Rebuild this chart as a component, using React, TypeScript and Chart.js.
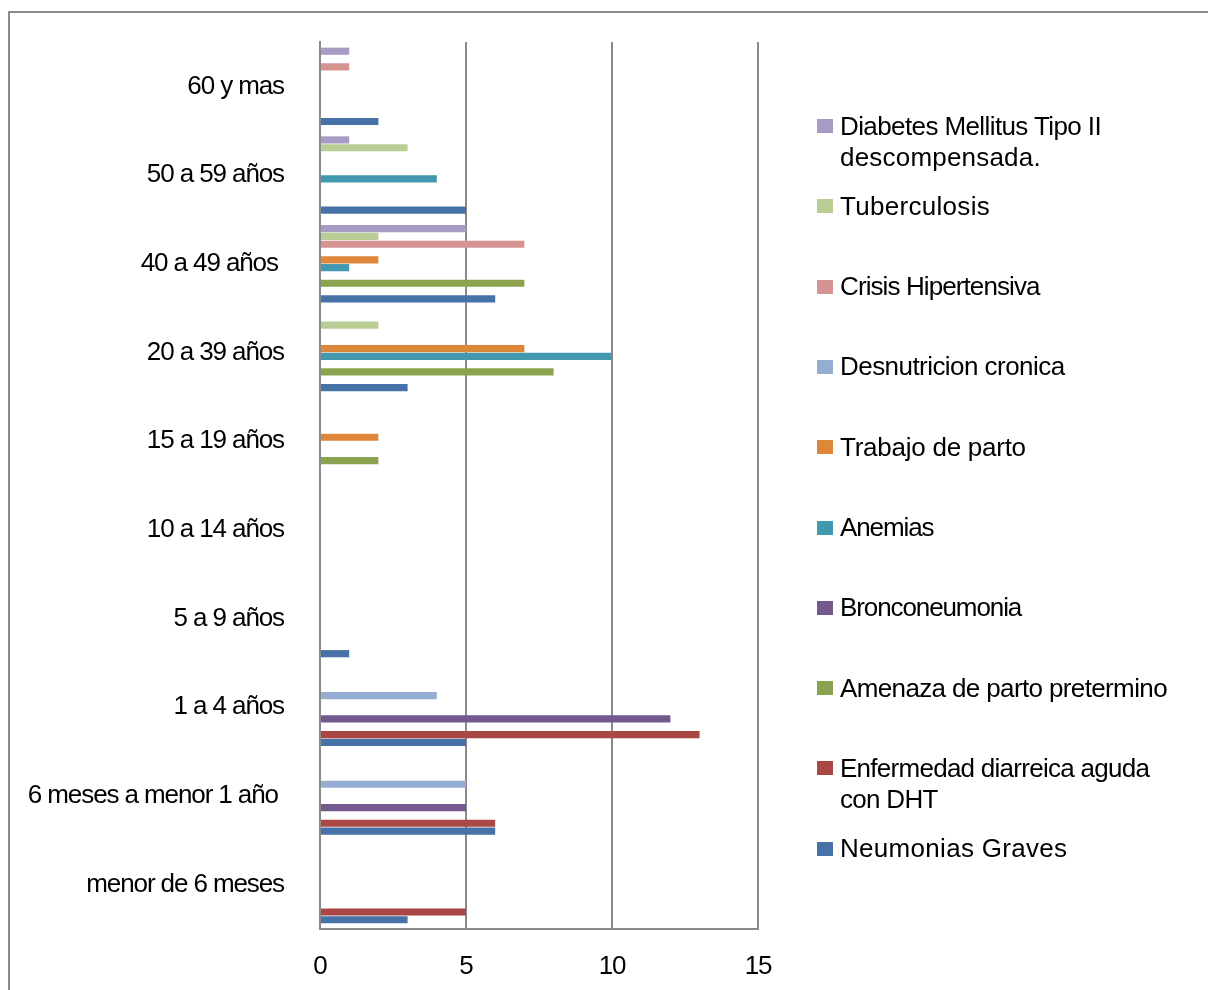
import React, { useEffect, useRef } from "react";
import { Chart, registerables } from "chart.js";

Chart.register(...registerables);

const categories = [
  "60 y mas",
  "50 a 59 años",
  "40 a 49 años ",
  "20 a 39 años",
  "15 a 19 años",
  "10 a 14 años",
  "5 a 9 años",
  "1 a 4 años",
  "6 meses a menor 1 año ",
  "menor de 6 meses",
];

const seriesNames = [
  ["Diabetes Mellitus Tipo II", "descompensada."],
  ["Tuberculosis"],
  ["Crisis Hipertensiva"],
  ["Desnutricion cronica"],
  ["Trabajo de parto"],
  ["Anemias"],
  ["Bronconeumonia"],
  ["Amenaza de parto pretermino"],
  ["Enfermedad diarreica aguda", "con DHT"],
  ["Neumonias Graves"],
];

const seriesColors = [
  "#A79BC3",
  "#BACD95",
  "#D59392",
  "#95ACD3",
  "#DE863A",
  "#4198AF",
  "#74598F",
  "#8BA24F",
  "#AA4644",
  "#4672A8",
];

// per-line letter spacing (px) of the legend texts, to match the reference's tight setting
const legendSpacing = [
  [-0.6, 0.2],
  [0.3],
  [-0.9],
  [-0.55],
  [-0.25],
  [-1.1],
  [-1.1],
  [-0.63],
  [-0.73, -0.7],
  [0.3],
];

const diabetes = [1, 1, 5, 0, 0, 0, 0, 0, 0, 0];
const tuberculosis = [0, 3, 2, 2, 0, 0, 0, 0, 0, 0];
const crisisHipertensiva = [1, 0, 7, 0, 0, 0, 0, 0, 0, 0];
const desnutricion = [0, 0, 0, 0, 0, 0, 0, 4, 5, 0];
const trabajoParto = [0, 0, 2, 7, 2, 0, 0, 0, 0, 0];
const anemias = [0, 4, 1, 10, 0, 0, 0, 0, 0, 0];
const bronconeumonia = [0, 0, 0, 0, 0, 0, 0, 12, 5, 0];
const amenazaParto = [0, 0, 7, 8, 2, 0, 0, 0, 0, 0];
const enfermedadDiarreica = [0, 0, 0, 0, 0, 0, 0, 13, 6, 5];
const neumonias = [2, 5, 6, 3, 0, 0, 1, 5, 6, 3];

const seriesValues = [
  diabetes,
  tuberculosis,
  crisisHipertensiva,
  desnutricion,
  trabajoParto,
  anemias,
  bronconeumonia,
  amenazaParto,
  enfermedadDiarreica,
  neumonias,
];

const xTicks = [0, 5, 10, 15];

const FONT = "'Liberation Sans', Arial, sans-serif";
const GRAY = "#8A8A8A";

const spacingPlugin = {
  id: "tightText",
  beforeDraw(chart: any) {
    try {
      chart.ctx.letterSpacing = "-1.1px";
    } catch (e) {}
  },
  afterDraw(chart: any) {
    try {
      chart.ctx.letterSpacing = "0px";
    } catch (e) {}
  },
};

export default function App() {
  const canvasRef = useRef<HTMLCanvasElement | null>(null);

  useEffect(() => {
    const canvas = canvasRef.current;
    if (!canvas) return;
    const chart = new Chart(canvas, {
      type: "bar",
      data: {
        labels: categories,
        datasets: seriesValues.map((vals, i) => ({
          label: seriesNames[i].join(" "),
          data: vals,
          backgroundColor: seriesColors[i],
          borderWidth: 0,
          categoryPercentage: 0.88,
          barPercentage: 0.92,
        })),
      },
      options: {
        indexAxis: "y",
        animation: false,
        responsive: false,
        maintainAspectRatio: false,
        layout: { padding: { top: 42, right: 450, left: 0, bottom: 0 } },
        plugins: {
          legend: { display: false },
          tooltip: { enabled: false },
        },
        scales: {
          x: {
            min: 0,
            max: 15,
            afterBuildTicks: (scale: any) => {
              scale.ticks = xTicks.map((v) => ({ value: v }));
            },
            afterFit: (scale: any) => {
              scale.height = 61;
              scale.paddingLeft = 0;
              scale.paddingRight = 0;
            },
            grid: {
              display: true,
              color: GRAY,
              lineWidth: 2,
              drawTicks: false,
            },
            border: { display: true, color: GRAY, width: 2 },
            ticks: {
              padding: 22,
              color: "#000",
              font: { family: FONT, size: 26 },
            },
          },
          y: {
            afterFit: (scale: any) => {
              scale.width = 320;
              scale.paddingTop = 0;
              scale.paddingBottom = 0;
            },
            grid: { display: false, drawTicks: false },
            border: { display: true, color: GRAY, width: 2 },
            ticks: {
              padding: 36,
              color: "#000",
              font: { family: FONT, size: 26 },
            },
          },
        },
      },
      plugins: [spacingPlugin],
    });
    return () => chart.destroy();
  }, []);

  return (
    <div
      style={{
        position: "fixed",
        left: 0,
        top: 0,
        width: 1208,
        height: 990,
        overflow: "hidden",
        background: "#fff",
        fontFamily: FONT,
      }}
    >
      <div
        style={{
          position: "absolute",
          left: 8,
          top: 11,
          width: 1240,
          height: 1040,
          border: `2px solid ${GRAY}`,
          boxSizing: "border-box",
        }}
      />
      <canvas
        ref={canvasRef}
        width={1208}
        height={990}
        style={{ position: "absolute", left: 0, top: 0, width: 1208, height: 990 }}
      />
      {seriesNames.map((lines, i) => {
        const center = 126 + i * 80.3;
        return (
          <div
            key={i}
            style={{
              position: "absolute",
              left: 817,
              top: center - 15.5,
              display: "flex",
              alignItems: "flex-start",
            }}
          >
            <div
              style={{
                width: 16,
                height: 14,
                marginTop: 8.5,
                background: seriesColors[i],
                flex: "none",
              }}
            />
            <div
              style={{
                marginLeft: 7,
                fontSize: 26,
                lineHeight: "31px",
                color: "#000",
                whiteSpace: "nowrap",
              }}
            >
              {lines.map((l, j) => (
                <div key={j} style={{ letterSpacing: `${legendSpacing[i][j]}px` }}>
                  {l}
                </div>
              ))}
            </div>
          </div>
        );
      })}
    </div>
  );
}
